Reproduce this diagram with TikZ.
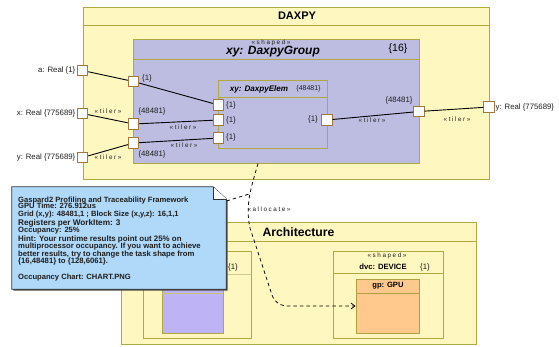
\documentclass[tikz,border=0pt]{standalone}
\usepackage{fontspec}
\setmainfont{Liberation Sans}
\usetikzlibrary{arrows.meta,calc}

\definecolor{ylw}{RGB}{255,247,192}
\definecolor{olv}{RGB}{176,168,64}
\definecolor{lav}{RGB}{189,189,226}
\definecolor{prt}{RGB}{160,120,64}
\definecolor{nte}{RGB}{176,216,248}
\definecolor{pur}{RGB}{190,180,245}
\definecolor{org}{RGB}{255,200,140}
\definecolor{txt}{RGB}{30,30,30}

\begin{document}
\begin{tikzpicture}[x=1pt,y=-1pt,
  box/.style={draw=olv, line width=0.9pt, inner sep=0pt, rectangle},
  divider/.style={draw=olv, line width=0.8pt},
  portbox/.style={draw=prt, fill=white, line width=0.9pt, minimum size=10.5pt, inner sep=0pt},
  lbl/.style={font=\fontsize{7.8}{8}\selectfont, text=txt, inner sep=0.5pt},
  tlab/.style={font=\fontsize{6.3}{7}\selectfont\addfontfeature{LetterSpace=25}, text=txt, inner sep=0.3pt},
  conn/.style={line width=0.9pt, draw=black},
  alloc/.style={line width=0.75pt, dash pattern=on 3.5pt off 3pt},
  noteline/.style={anchor=base west, inner sep=0pt, font=\bfseries\fontsize{7.6}{8}\selectfont, text=txt},
]
\useasboundingbox (0,0) rectangle (559,346);
\fill[white] (0,0) rectangle (559,346);

% ---------- DAXPY ----------
\node[box, fill=ylw, minimum width=406pt, minimum height=172pt] (daxpy) at (286,93) {};
\draw[divider] (daxpy.west |- 0,25) -- (daxpy.east |- 0,25);
\node[font=\bfseries\fontsize{11}{12}\selectfont] (daxpyT) at (297,16) {DAXPY};

% group
\node[box, fill=lav, minimum width=286pt, minimum height=124pt] (group) at (276,101) {};
\draw[divider] (group.west |- 0,59) -- (group.east |- 0,59);
\node[tlab] (groupS) at (271,43) {«shaped»};
\node[font=\bfseries\itshape\fontsize{12}{13}\selectfont] (groupT) at (273,52) {xy: DaxpyGroup};
\node[font=\fontsize{10.5}{12}\selectfont] (groupM) at (398,48.5) {\{16\}};

% elem
\node[box, fill=lav, minimum width=109pt, minimum height=68pt] (elem) at (272.5,114) {};
\draw[divider] (elem.west |- 0,97) -- (elem.east |- 0,97);
\node[font=\bfseries\itshape\fontsize{8.1}{9}\selectfont] (elemT) at (259,89) {xy: DaxpyElem};
\node[font=\fontsize{7}{8}\selectfont, text=txt] (elemM) at (308.5,89) {\{48481\}};

% ports
\node[portbox] (pa) at (82.5,70.5) {};
\node[portbox] (px) at (82.5,113.5) {};
\node[portbox] (py) at (82.5,157.5) {};
\node[portbox] (pyo) at (489,107) {};
\node[portbox] (ga) at (133.5,81.5) {};
\node[portbox] (gx) at (133.5,124) {};
\node[portbox] (gy) at (133.5,143) {};
\node[portbox] (go) at (419,111.5) {};
\node[portbox] (ea) at (218.5,105) {};
\node[portbox] (ex) at (218.5,120) {};
\node[portbox] (ey) at (218.5,138) {};
\node[portbox] (eo) at (327,120) {};

% port labels
\node[lbl, anchor=east] (paL) at (76,70.5) {a: Real \{1\}};
\node[lbl, anchor=east] (pxL) at (76,113.5) {x: Real \{775689\}};
\node[lbl, anchor=east] (pyL) at (76,157.5) {y: Real \{775689\}};
\node[lbl, anchor=west] (pyoL) at (495,107) {y: Real \{775689\}};
\node[lbl] (gaL) at (147,78) {\{1\}};
\node[lbl] (gxL) at (152,111) {\{48481\}};
\node[lbl] (gyL) at (152,154) {\{48481\}};
\node[lbl] (goL) at (399,100) {\{48481\}};
\node[lbl] (eaL) at (231,105) {\{1\}};
\node[lbl] (exL) at (231,120) {\{1\}};
\node[lbl] (eyL) at (231,137) {\{1\}};
\node[lbl] (eoL) at (313,119) {\{1\}};

% connectors
\draw[conn] (pa) -- (ga);
\draw[conn] (ga) -- (ea);
\draw[conn] (px) -- (gx);
\draw[conn] (gx) -- (ex);
\draw[conn] (py) -- (gy);
\draw[conn] (gy) -- (ey);
\draw[conn] (eo) -- (go);
\draw[conn] (go) -- (pyo);

\node[tlab] (t1) at (108,111) {«tiler»};
\node[tlab] (t2) at (108,157) {«tiler»};
\node[tlab] (t3) at (183,127) {«tiler»};
\node[tlab] (t4) at (184,145) {«tiler»};
\node[tlab] (t5) at (372,120) {«tiler»};
\node[tlab] (t6) at (457,119) {«tiler»};

% ---------- Architecture ----------
\node[box, fill=ylw, minimum width=355pt, minimum height=122pt] (arch) at (298.5,283) {};
\draw[divider] (arch.west |- 0,241) -- (arch.east |- 0,241);
\node[font=\bfseries\fontsize{12.2}{13}\selectfont] (archT) at (298.5,232) {Architecture};

% left node (partly hidden)
\node[box, fill=ylw, minimum width=108pt, minimum height=87pt] (left) at (197,294.5) {};
\draw[divider, draw=olv!60] (left.west |- 0,274) -- (left.east |- 0,274);
\node[lbl] (leftM) at (233,267) {\{1\}};
\node[box, fill=pur, minimum width=61pt, minimum height=63pt] (leftP) at (192.5,301.5) {};
\draw[divider, draw=olv!70] (leftP.west |- 0,293) -- (leftP.east |- 0,293);

% device
\node[box, fill=ylw, minimum width=110pt, minimum height=87pt] (dvc) at (388,294.5) {};
\draw[divider] (dvc.west |- 0,273) -- (dvc.east |- 0,273);
\node[tlab] (dvcS) at (387,256) {«shaped»};
\node[font=\bfseries\fontsize{7.7}{8}\selectfont] (dvcT) at (383,267) {dvc: DEVICE};
\node[lbl] (dvcM) at (425,267) {\{1\}};

% gpu
\node[box, fill=org, draw=olv!80!brown, minimum width=63pt, minimum height=54pt] (gpu) at (387.5,306) {};
\draw[divider, draw=olv!80!brown] (gpu.west |- 0,293) -- (gpu.east |- 0,293);
\node[font=\bfseries\fontsize{7.6}{8}\selectfont] (gpuT) at (388,286) {gp: GPU};

% allocate
\coordinate (alS) at (258,163.5);
\coordinate (nJ) at (249,194);
\coordinate (nS) at (226.5,201);
\draw[alloc, -{Straight Barb[length=4pt,width=6pt]}] (alS) .. controls (251,188) and (245,205) .. (250,228)
  -- (272,295) .. controls (275,303) and (280,306) .. (290,306) -- (gpu.west);
\node[tlab] (allocL) at (269,209) {«allocate»};

% ---------- Note ----------
\node[minimum width=214pt, minimum height=102pt, inner sep=0pt] (note) at (119,238) {};
\fill[black!70] ($(note.north west)+(1.5,1.5)$) -- ($(note.north east)+(-11.5,1.5)$) -- ($(note.north east)+(1.5,13.5)$)
  -- ($(note.south east)+(1.5,1.5)$) -- ($(note.south west)+(1.5,1.5)$) -- cycle;
\draw[fill=nte, draw=black!80, line width=0.8pt] (note.north west) -- ($(note.north east)+(-13,0)$) -- ($(note.north east)+(0,12)$)
  -- (note.south east) -- (note.south west) -- cycle;
\draw[fill=white, draw=black!80, line width=0.6pt] ($(note.north east)+(-13,0)$) -- ($(note.north east)+(-13,12)$) -- ($(note.north east)+(0,12)$);
\node[noteline] (n1) at (18,202) {Gaspard2 Profiling and Traceability Framework};
\node[noteline] (n2) at (18,208.5) {GPU Time: 276.912us};
\node[noteline] (n3) at (18,216) {Grid (x,y): 48481,1 ; Block Size (x,y,z): 16,1,1};
\node[noteline, font=\bfseries\fontsize{8.2}{9}\selectfont] (n4) at (18,225.5) {Registers per WorkItem: 3};
\node[noteline] (n5) at (18,232.5) {Occupancy: 25\%};
\node[noteline, font=\bfseries\fontsize{7.9}{9}\selectfont] (n6) at (18,241) {Hint: Your runtime results point out 25\% on};
\node[noteline, font=\bfseries\fontsize{7.7}{9}\selectfont] (n7) at (18,248.5) {multiprocessor occupancy. If you want to achieve};
\node[noteline, font=\bfseries\fontsize{7.7}{9}\selectfont] (n8) at (18,256) {better results, try to change the task shape from};
\node[noteline, font=\bfseries\fontsize{7.7}{9}\selectfont] (n9) at (18,263.5) {\{16,48481\} to \{128,6061\}.};
\node[noteline] (n10) at (18,279.5) {Occupancy Chart: CHART.PNG};
\draw[alloc] (nS) -- (nJ);

\end{tikzpicture}
\end{document}
